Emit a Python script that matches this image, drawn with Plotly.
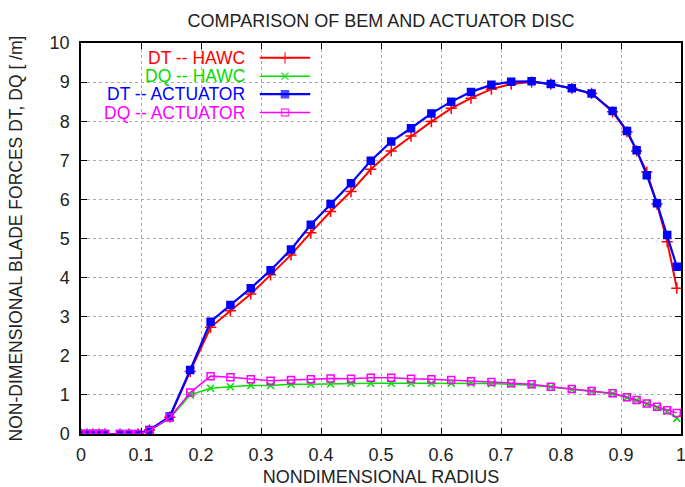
import plotly.graph_objects as go

# ---------------- data ----------------
radius = [0.0, 0.01, 0.02, 0.03, 0.04, 0.065, 0.08, 0.095,
          0.114, 0.148, 0.182, 0.216, 0.249, 0.283, 0.316, 0.35, 0.383, 0.416,
          0.45, 0.483, 0.517, 0.55, 0.584, 0.617, 0.65, 0.684, 0.717, 0.751,
          0.783, 0.818, 0.851, 0.886, 0.91, 0.926, 0.943, 0.96, 0.977, 0.993]

dt_hawc = [0, 0, 0, 0, 0, 0, 0, 0,
           0.10, 0.43, 1.60, 2.73, 3.15, 3.58, 4.07, 4.58, 5.15, 5.69,
           6.20, 6.77, 7.24, 7.62, 7.99, 8.33, 8.59, 8.82, 8.95, 9.00,
           8.95, 8.84, 8.71, 8.24, 7.73, 7.24, 6.70, 5.88, 4.92, 3.73]

dq_hawc = [0, 0, 0, 0, 0, 0, 0, 0,
           0.08, 0.40, 1.00, 1.17, 1.21, 1.24, 1.24, 1.27, 1.27, 1.28,
           1.30, 1.30, 1.30, 1.30, 1.30, 1.30, 1.30, 1.29, 1.27, 1.25,
           1.20, 1.14, 1.09, 1.03, 0.93, 0.86, 0.77, 0.68, 0.58, 0.40]

dt_act = [0, 0, 0, 0, 0, 0, 0, 0,
          0.10, 0.45, 1.64, 2.87, 3.30, 3.73, 4.19, 4.72, 5.35, 5.88,
          6.41, 6.99, 7.48, 7.82, 8.20, 8.50, 8.75, 8.93, 9.01, 9.02,
          8.95, 8.84, 8.71, 8.26, 7.75, 7.26, 6.62, 5.90, 5.09, 4.28]

dq_act = [0, 0, 0, 0, 0, 0, 0, 0,
          0.08, 0.42, 1.06, 1.48, 1.45, 1.40, 1.36, 1.38, 1.40, 1.42,
          1.41, 1.44, 1.44, 1.41, 1.40, 1.38, 1.35, 1.33, 1.30, 1.27,
          1.21, 1.15, 1.10, 1.04, 0.94, 0.87, 0.78, 0.70, 0.61, 0.54]

x_ticks = [0, 0.1, 0.2, 0.3, 0.4, 0.5, 0.6, 0.7, 0.8, 0.9, 1]
x_labels = ["0", "0.1", "0.2", "0.3", "0.4", "0.5", "0.6", "0.7", "0.8", "0.9", "1"]
y_ticks = list(range(0, 11))

series_names = ["DT -- HAWC", "DQ -- HAWC", "DT -- ACTUATOR", "DQ -- ACTUATOR"]
series_vals = [dt_hawc, dq_hawc, dt_act, dq_act]
colors = ["#ff0000", "#00dd00", "#0000ff", "#ff00ff"]
symbols = ["cross-thin", "x-thin", "square", "square-open"]
sizes = [8, 7, 7, 7]
widths = [2, 1.5, 2.2, 1.5]

FONT = "Liberation Sans, Arial, sans-serif"

fig = go.Figure()
for name, vals, c, s, sz, w in zip(series_names, series_vals, colors, symbols, sizes, widths):
    fig.add_trace(go.Scatter(
        x=radius, y=vals, mode="lines+markers", name=name,
        line=dict(color=c, width=w),
        marker=dict(symbol=s, size=sz, color=c, line=dict(color=c, width=1.5)),
        showlegend=False,
    ))

# custom legend (text right-aligned, sample to the right), gnuplot style
leg_rows = [0.962, 0.915, 0.869, 0.822]
for name, c, s, sz, w, ry in zip(series_names, colors, symbols, sizes, widths, leg_rows):
    fig.add_annotation(
        x=0.277, y=ry, xref="paper", yref="paper", text=name,
        showarrow=False, xanchor="right", yanchor="middle",
        font=dict(family=FONT, size=17.5, color=c),
    )
    fig.add_trace(go.Scatter(
        x=[0.298, 0.34, 0.382], y=[ry, ry, ry], xaxis="x2", yaxis="y2",
        mode="lines+markers", line=dict(color=c, width=w),
        marker=dict(symbol=s, size=[0, sz, 0], color=c, line=dict(color=c, width=1.5)),
        showlegend=False, hoverinfo="skip",
    ))

fig.update_layout(
    width=685, height=487,
    margin=dict(l=81, r=4, t=43, b=53, autoexpand=False),
    paper_bgcolor="white", plot_bgcolor="white",
    font=dict(family=FONT, size=18, color="black"),
    title=dict(text="COMPARISON OF BEM AND ACTUATOR DISC", x=0.5, xref="paper",
               y=0.958, yref="container", yanchor="middle",
               font=dict(family=FONT, size=18, color="#222222")),
    xaxis=dict(range=[0, 1], tickvals=x_ticks, ticktext=x_labels,
               showgrid=True, gridcolor="#aaaaaa", griddash="dot", gridwidth=1,
               showline=True, linecolor="black", linewidth=1.5, mirror="ticks",
               ticks="inside", ticklen=6, tickcolor="black", zeroline=False,
               ticklabelstandoff=4, automargin=False, ticklabeloverflow="allow",
               tickfont=dict(family=FONT, size=18, color="#222222"),
               title=dict(text="NONDIMENSIONAL RADIUS", standoff=6,
                          font=dict(family=FONT, size=18, color="#222222"))),
    yaxis=dict(range=[0, 10], tickvals=y_ticks,
               showgrid=True, gridcolor="#aaaaaa", griddash="dot", gridwidth=1,
               showline=True, linecolor="black", linewidth=1.5, mirror="ticks",
               ticks="inside", ticklen=6, tickcolor="black", zeroline=False,
               ticklabelstandoff=6, automargin=False, ticklabeloverflow="allow",
               tickfont=dict(family=FONT, size=18, color="#222222"),
               title=dict(text="NON-DIMENSIONAL BLADE FORCES DT, DQ [ /m]", standoff=22,
                          font=dict(family=FONT, size=17.5, color="#222222"))),
    xaxis2=dict(overlaying="x", range=[0, 1], visible=False),
    yaxis2=dict(overlaying="y", range=[0, 1], visible=False),
)

fig.write_html(
    "out.html",
    config={"displayModeBar": False},
    post_script="document.body.style.margin='0';document.body.style.overflow='hidden';",
)
